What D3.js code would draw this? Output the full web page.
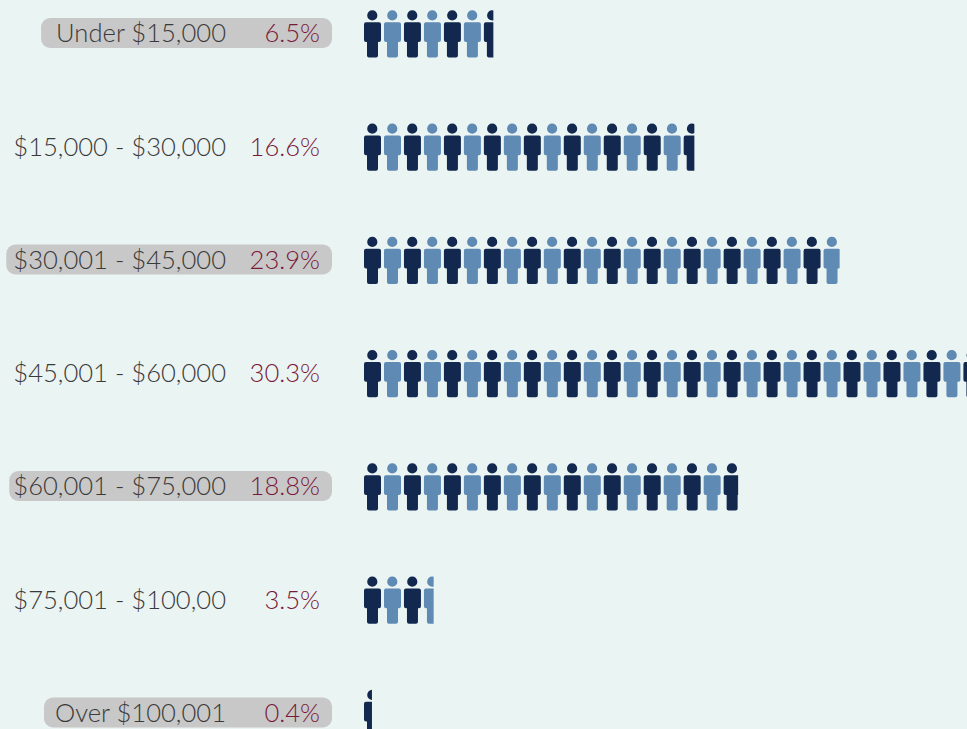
<!DOCTYPE html>
<html>
<head>
<meta charset="utf-8">
<script src="https://cdnjs.cloudflare.com/ajax/libs/d3/7.8.5/d3.min.js"></script>
<style>
    html, body { margin: 0; padding: 0; background: #eaf4f3; overflow: hidden; }
    svg { display: block; }
    text { font-family: Lato, sans-serif; font-weight: 300; font-size: 25.6px; }
</style>
</head>
<body>
<svg id="icon_chart" width="967" height="729"></svg>
<script>
const INCOME_LABELS = ["Under $15,000", "$15,000 - $30,000", "$30,001 - $45,000", "$45,001 - $60,000", "$60,001 - $75,000", "$75,001 - $100,00", "Over $100,001"];
const INCOME_SHARES = [6.5, 16.6, 23.9, 30.3, 18.8, 3.5, 0.4];
const HIGHLIGHTED = ["Under $15,000", "$30,001 - $45,000", "$60,001 - $75,000", "Over $100,001"];

const svg = d3.select("svg#icon_chart");
const NAVY = "#12284f", STEEL = "#5f8ab4";
const LABEL_RIGHT = 226, SHARE_RIGHT = 320, PILL_RIGHT = 332, PILL_HEIGHT = 30;
const ICON_PITCH = 19.98;
// left padding of the grey pill differs a bit from row to row
const PILL_PADDING = {"Under $15,000": 15, "$30,001 - $45,000": 7, "$60,001 - $75,000": 4, "Over $100,001": 11};

const y = d3.scalePoint().domain(INCOME_LABELS).range([33, 712.5]);
// clip width of a row, in percent
const x = d3.scaleLinear().domain([0, 30.3]).range([364, 967]);

function iconPath() {
    // one person, drawn from the top left of the body box
    const p = d3.path();
    const roundedRect = (left, top, w, h, r) => {
        p.moveTo(left + r, top);
        p.arcTo(left + w, top, left + w, top + h, r);
        p.arcTo(left + w, top + h, left, top + h, r);
        p.arcTo(left, top + h, left, top, r);
        p.arcTo(left, top, left + w, top, r);
        p.closePath();
    };
    p.moveTo(13.4, -6.6);
    p.arc(8.3, -6.6, 5.1, 0, 2 * Math.PI);
    p.closePath();
    roundedRect(0, 0.3, 17, 19.7, 2);
    roundedRect(3, 15, 11, 20.5, 2);
    return p.toString();
}

const defs = svg.append("defs");
defs.selectAll("clipPath")
    .data(INCOME_LABELS)
    .join("clipPath")
    .attr("id", (d, i) => "row_clip_" + i)
    .append("rect")
    .attr("x", x(0))
    .attr("y", d => y(d) - 40)
    .attr("width", (d, i) => x(INCOME_SHARES[i]) - x(0))
    .attr("height", 80);

const rows = svg.selectAll("g.row")
    .data(INCOME_LABELS)
    .join("g")
    .attr("class", "row");

rows.filter(d => HIGHLIGHTED.includes(d)).append("rect")
    .attr("class", "pill")
    .attr("y", d => y(d) - PILL_HEIGHT / 2)
    .attr("height", PILL_HEIGHT)
    .attr("rx", 9)
    .attr("fill", "#c8c8c8");

rows.append("text")
    .attr("class", "label")
    .attr("x", LABEL_RIGHT)
    .attr("y", d => y(d) + 0.5)
    .attr("dy", ".35em")
    .attr("text-anchor", "end")
    .attr("fill", "#3a3a3a")
    .text(d => d);

rows.append("text")
    .attr("x", SHARE_RIGHT)
    .attr("y", d => y(d) + 0.5)
    .attr("dy", ".35em")
    .attr("text-anchor", "end")
    .attr("fill", "#7a1838")
    .text((d, i) => INCOME_SHARES[i] + "%");

rows.each(function (d) {
    const row = d3.select(this);
    const labelLeft = row.select("text.label").node().getBBox().x;
    row.select("rect.pill")
        .attr("x", labelLeft - PILL_PADDING[d])
        .attr("width", PILL_RIGHT - labelLeft + PILL_PADDING[d]);
});

const path = iconPath();
rows.append("g")
    .attr("clip-path", (d, i) => "url(#row_clip_" + i + ")")
    .each(function (d, i) {
        d3.select(this).selectAll("path")
            .data(d3.range(Math.ceil(INCOME_SHARES[i])))
            .join("path")
            .attr("d", path)
            .attr("transform", k => "translate(" + (x(0) + k * ICON_PITCH) + "," + (y(d) - 11) + ")")
            .attr("fill", k => k % 2 ? STEEL : NAVY);
    });
</script>
</body>
</html>
